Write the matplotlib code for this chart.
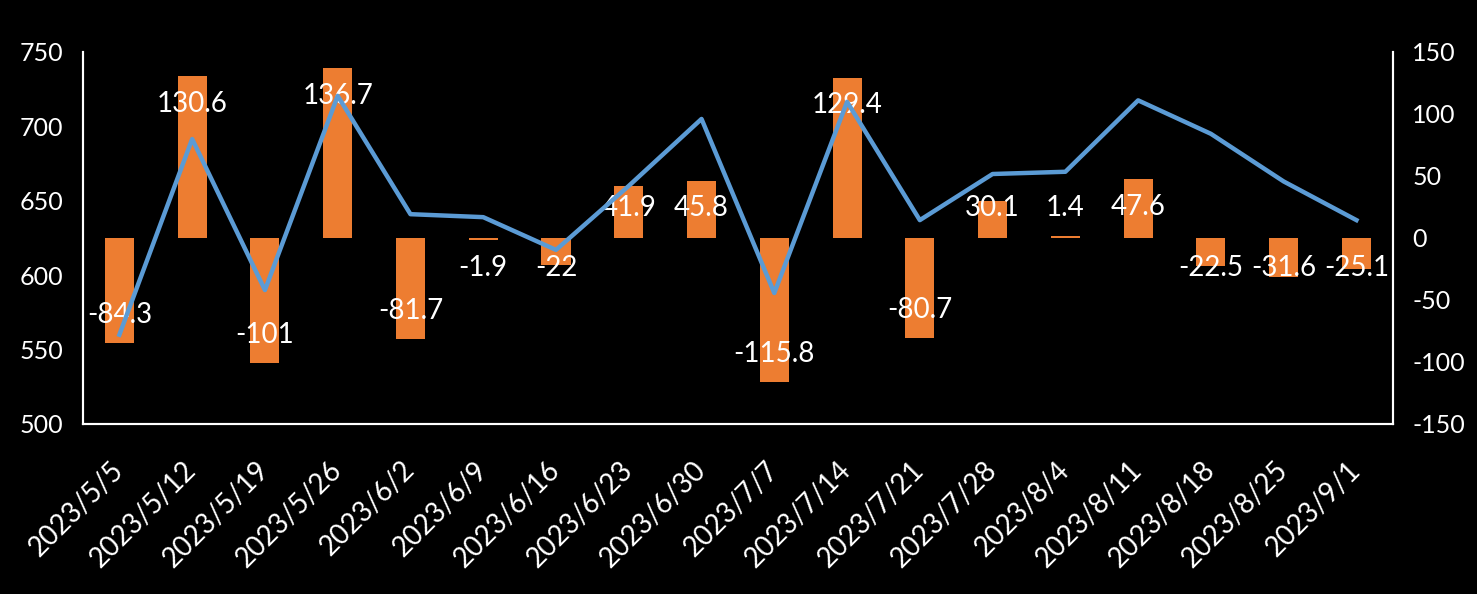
import matplotlib
matplotlib.use("Agg")
import matplotlib.pyplot as plt
import numpy as np

plt.rcParams['font.family'] = ['Lato', 'DejaVu Sans']

dates = ['2023/5/5', '2023/5/12', '2023/5/19', '2023/5/26', '2023/6/2', '2023/6/9',
         '2023/6/16', '2023/6/23', '2023/6/30', '2023/7/7', '2023/7/14', '2023/7/21',
         '2023/7/28', '2023/8/4', '2023/8/11', '2023/8/18', '2023/8/25', '2023/9/1']
# weekly change (bars, right axis)
changes = [-84.3, 130.6, -101, 136.7, -81.7, -1.9, -22, 41.9, 45.8, -115.8,
           129.4, -80.7, 30.1, 1.4, 47.6, -22.5, -31.6, -25.1]
# level (line, left axis)
level = [560, 691.5, 590, 720.5, 641, 639, 617, 660, 705, 588,
         716.5, 637, 668, 669.5, 717.5, 695, 663, 637]

left_ticks = [500, 550, 600, 650, 700, 750]
right_ticks = [-150, -100, -50, 0, 50, 100, 150]

BAR_COLOR = '#ED7D31'
LINE_COLOR = '#5B9BD5'

fig = plt.figure(figsize=(14.77, 5.94), dpi=100, facecolor='black')
ax = fig.add_axes([0.0562, 0.2862, 0.8868, 0.6263])
ax2 = ax.twinx()

x = np.arange(len(dates))

# bars + labels on the right axis (drawn underneath)
ax2.bar(x, changes, width=0.4, color=BAR_COLOR, zorder=2)
ax2.set_ylim(-150, 150)
ax2.set_yticks(right_ticks)
ax2.set_yticklabels([str(t) for t in right_ticks])
for xi, v in zip(x, changes):
    # label sits just inside the bar end, but not too close to zero
    off = max(abs(v) - 22.5, 24)
    y = off if v >= 0 else -off
    ax2.text(xi, y, '{:g}'.format(v), ha='center', va='center',
             color='white', fontsize=20, zorder=3)

# line on the left axis (drawn on top)
ax.plot(x, level, color=LINE_COLOR, linewidth=3.2, zorder=4)
ax.set_ylim(500, 750)
ax.set_yticks(left_ticks)
ax.set_xlim(-0.5, len(dates) - 0.5)
ax.set_xticks(x)
ax.set_xticklabels(dates, rotation=45, ha='right', va='center',
                   rotation_mode='anchor', fontsize=20)

ax.set_zorder(ax2.get_zorder() + 1)
ax.patch.set_visible(False)
ax2.set_facecolor('black')

for a in (ax, ax2):
    a.spines['top'].set_visible(False)
    for s in ('left', 'right', 'bottom'):
        a.spines[s].set_color('white')
        a.spines[s].set_linewidth(1.5)
    a.tick_params(axis='y', length=0, colors='white', labelsize=18, pad=14)
ax.tick_params(axis='x', length=0, colors='white', pad=30)

fig.savefig('out.png', dpi=100, facecolor='black')
